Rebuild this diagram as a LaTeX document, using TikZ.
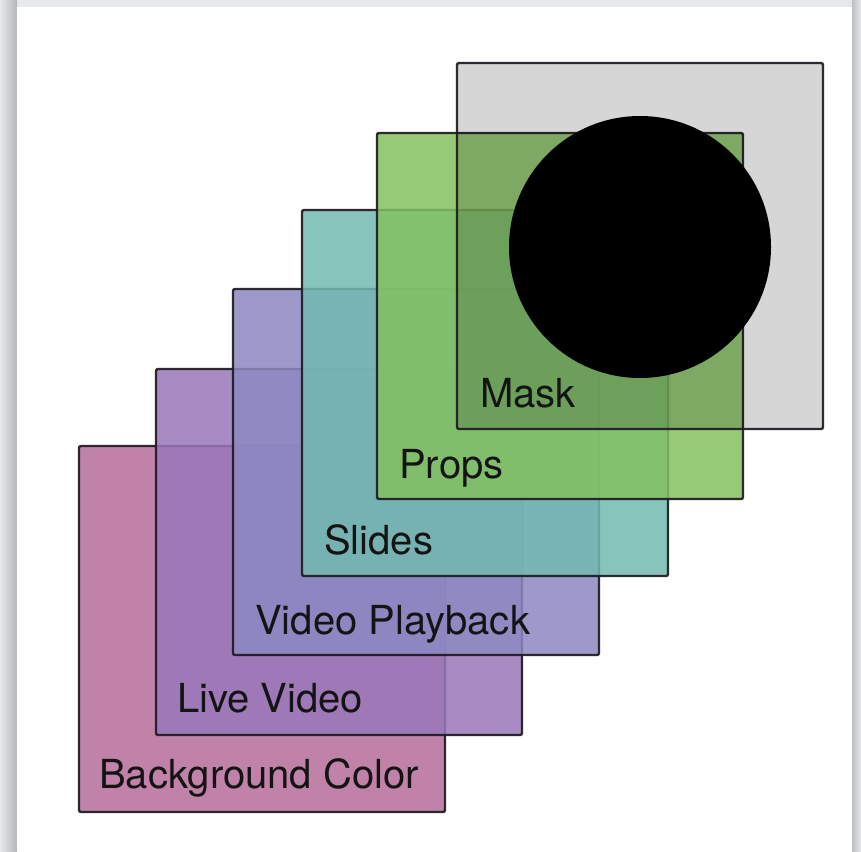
\documentclass[tikz,border=0pt]{standalone}
\usepackage{fontspec}
\setmainfont{TeX Gyre Heros}
\usetikzlibrary{calc}
\definecolor{pagebg}{HTML}{E7E8EB}
\definecolor{shadowdark}{HTML}{B4B6BA}
\definecolor{bgcol}{RGB}{183,109,154}
\definecolor{livecol}{RGB}{154,119,186}
\definecolor{vpcol}{RGB}{140,137,194}
\definecolor{slidecol}{RGB}{115,186,176}
\definecolor{propcol}{RGB}{131,193,96}
\definecolor{edgecol}{HTML}{1E1A22}
\tikzset{
  layerbox/.style={draw=edgecol, line width=2.4pt, rounded corners=2pt,
    fill opacity=0.85, draw opacity=0.92, minimum width=366pt, minimum height=366pt,
    inner sep=0pt, outer sep=0pt, anchor=north west},
  masklayer/.style={layerbox, fill=black, fill opacity=0.16},
  lbl/.style={anchor=base west, inner sep=0pt, text=black!92,
    font=\fontsize{40}{48}\selectfont}
}
\begin{document}
\begin{tikzpicture}[x=1pt,y=-1pt]
\useasboundingbox (0,0) rectangle (861,851);
% page background and card
\fill[pagebg] (0,0) rectangle (861,851);
\shade[left color=pagebg, right color=shadowdark] (0,0) rectangle (17,851);
\shade[left color=shadowdark!80!pagebg, right color=pagebg] (852,0) rectangle (861,851);
\fill[white] (17,7) rectangle (852,851);
% layers
\node[layerbox, fill=bgcol] (bg) at (79,446) {};
\node[lbl] (bgt) at ($(bg.south west)+(20,-24)$) {Background Color};
\node[layerbox, fill=livecol] (live) at (156,369) {};
\node[lbl] (livet) at ($(live.south west)+(21,-23)$) {Live Video};
\node[layerbox, fill=vpcol] (vp) at (233,289) {};
\node[lbl] (vpt) at ($(vp.south west)+(22,-21)$) {Video Playback};
\node[layerbox, fill=slidecol] (slides) at (302,210) {};
\node[lbl] (slidest) at ($(slides.south west)+(22,-22)$) {Slides};
\node[layerbox, fill=propcol] (props) at (377,133) {};
\node[lbl] (propst) at ($(props.south west)+(22,-21)$) {Props};
\node[masklayer] (mask) at (457,63) {};
\node[lbl] (maskt) at ($(mask.south west)+(23,-22)$) {Mask};
\node[circle, fill=black, minimum size=262pt, inner sep=0pt] (disc) at (640,247) {};
\end{tikzpicture}
\end{document}
